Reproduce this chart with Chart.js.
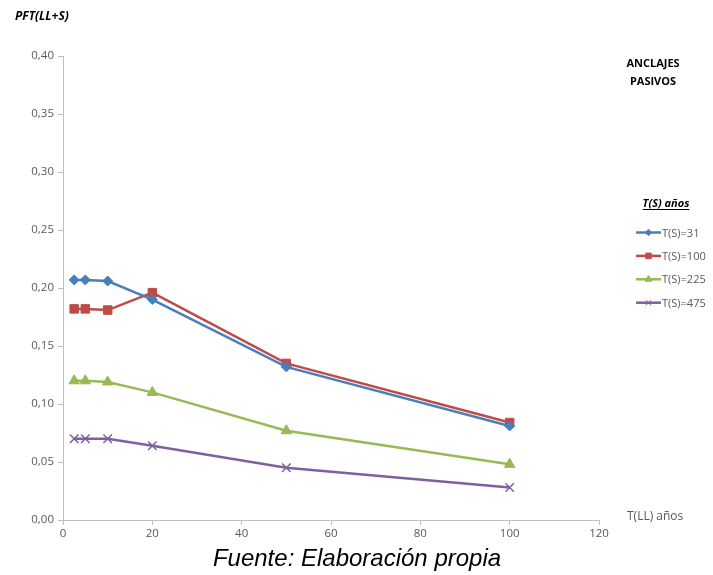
<!DOCTYPE html>
<html>
<head>
<meta charset="utf-8">
<script src="https://cdn.jsdelivr.net/npm/chart.js@4/dist/chart.umd.min.js"></script>
<style>
  html, body { margin: 0; padding: 0; background: #fff; }
  #wrap { position: relative; width: 713px; height: 575px; }
</style>
</head>
<body>
<div id="wrap"><canvas id="chart" width="713" height="575"></canvas></div>
<script>
// T(LL) return periods (years) and PFT values per T(S)
var tllYears = [2.5, 5, 10, 20, 50, 100]
var ts31 = [0.207, 0.207, 0.206, 0.190, 0.132, 0.081]
var ts100 = [0.182, 0.182, 0.181, 0.196, 0.135, 0.084]
var ts225 = [0.120, 0.120, 0.119, 0.110, 0.077, 0.048]
var ts475 = [0.070, 0.070, 0.070, 0.064, 0.045, 0.028]
var seriesNames = ['T(S)=31', 'T(S)=100', 'T(S)=225', 'T(S)=475']
var xTicks = [0, 20, 40, 60, 80, 100, 120]
var yTicks = [0, 0.05, 0.10, 0.15, 0.20, 0.25, 0.30, 0.35, 0.40]

var FONT = '"Open Sans", "Liberation Sans", sans-serif'
var AXIS_GREY = '#bfbfbf'
var TEXT_GREY = '#595959'

function points (ys) {
  return tllYears.map(function (x, i) { return { x: x, y: ys[i] } })
}

function series (label, ys, color, style, radius) {
  return {
    label: label,
    data: points(ys),
    borderColor: color,
    backgroundColor: color,
    borderWidth: 2.5,
    pointStyle: style,
    pointRadius: radius,
    pointHoverRadius: radius,
    pointBorderColor: color,
    pointBackgroundColor: color,
    pointBorderWidth: style === 'crossRot' ? 1.5 : 1,
    showLine: true,
    tension: 0
  }
}

var datasets = [
  series(seriesNames[0], ts31, '#4a7ebb', 'rectRot', 5),
  series(seriesNames[1], ts100, '#be4b48', 'rect', 6),
  series(seriesNames[2], ts225, '#98b954', 'triangle', 6),
  series(seriesNames[3], ts475, '#7d60a0', 'crossRot', 6)
]

// titles, side notes and the legend are painted after the chart
var annotations = {
  id: 'annotations',
  afterDraw: function (chart) {
    var ctx = chart.ctx
    ctx.save()
    ctx.fillStyle = '#000'
    ctx.textBaseline = 'alphabetic'

    ctx.font = 'italic bold 12px ' + FONT
    ctx.textAlign = 'left'
    ctx.fillText('PFT(LL+S)', 15, 20)

    ctx.font = 'bold 11px ' + FONT
    ctx.textAlign = 'center'
    ctx.fillText('ANCLAJES', 653, 67)
    ctx.fillText('PASIVOS', 653, 85)

    ctx.font = 'italic bold 11px ' + FONT
    ctx.fillText('T(S) años', 666, 207)
    var w = ctx.measureText('T(S) años').width
    ctx.fillRect(666 - w / 2, 209, w, 1)

    ctx.font = '12px ' + FONT
    ctx.textAlign = 'left'
    ctx.fillStyle = TEXT_GREY
    ctx.fillText('T(LL) años', 627, 520)

    ctx.font = '11px ' + FONT
    chart.data.datasets.forEach(function (ds, i) {
      var y = 232.5 + i * 23.4
      ctx.strokeStyle = ds.borderColor
      ctx.lineWidth = 2.5
      ctx.beginPath()
      ctx.moveTo(636, y)
      ctx.lineTo(661, y)
      ctx.stroke()
      ctx.fillStyle = ds.pointBackgroundColor
      ctx.strokeStyle = ds.pointBorderColor
      ctx.lineWidth = 1
      Chart.helpers.drawPoint(ctx, {
        pointStyle: ds.pointStyle,
        radius: ds.pointRadius * 0.65,
        rotation: 0,
        borderWidth: 1
      }, 648.5, y)
      ctx.fillStyle = TEXT_GREY
      ctx.textBaseline = 'middle'
      ctx.fillText(ds.label, 662, y + 1)
      ctx.textBaseline = 'alphabetic'
    })

    ctx.fillStyle = '#000'
    ctx.font = 'italic 24px "Liberation Sans", Arial, sans-serif'
    ctx.textAlign = 'center'
    ctx.fillText('Fuente: Elaboración propia', 357, 566)
    ctx.restore()
  }
}

new Chart(document.getElementById('chart'), {
  type: 'scatter',
  data: { datasets: datasets },
  options: {
    responsive: false,
    animation: false,
    layout: { padding: { left: 0, right: 114, top: 56, bottom: 25 } },
    plugins: {
      legend: { display: false },
      tooltip: { enabled: false }
    },
    scales: {
      x: {
        type: 'linear',
        min: 0,
        max: 120,
        afterFit: function (scale) { scale.height = 30 },
        afterBuildTicks: function (scale) {
          scale.ticks = xTicks.map(function (v) { return { value: v } })
        },
        ticks: { color: TEXT_GREY, font: { family: FONT, size: 11.5 }, padding: 2, maxRotation: 0 },
        grid: { display: true, drawOnChartArea: false, drawTicks: true, tickLength: 5, color: AXIS_GREY },
        border: { color: AXIS_GREY, width: 1 }
      },
      y: {
        type: 'linear',
        min: 0,
        max: 0.4,
        afterFit: function (scale) { scale.width = 63 },
        afterBuildTicks: function (scale) {
          scale.ticks = yTicks.map(function (v) { return { value: v } })
        },
        ticks: {
          color: TEXT_GREY,
          font: { family: FONT, size: 11.5 },
          padding: 4,
          callback: function (v) { return v.toFixed(2).replace('.', ',') }
        },
        grid: { display: true, drawOnChartArea: false, drawTicks: true, tickLength: 5, color: AXIS_GREY },
        border: { color: AXIS_GREY, width: 1 }
      }
    }
  },
  plugins: [annotations]
})
</script>
</body>
</html>
